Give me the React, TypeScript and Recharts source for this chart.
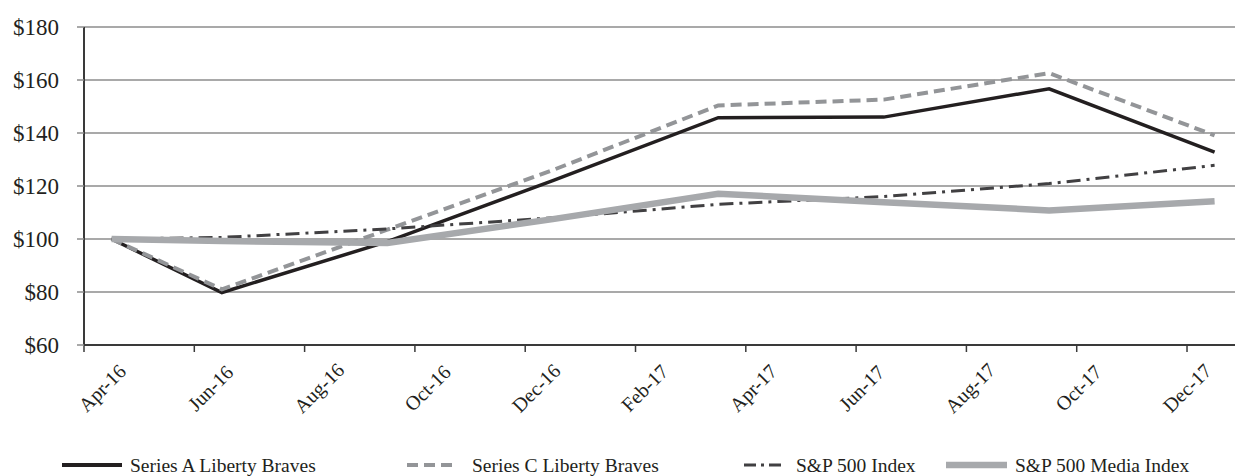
import React from "react";
import { LineChart, Line, XAxis, YAxis, CartesianGrid } from "recharts";

// x position of each observation, in months from the "Apr-16" tick
const monthPos = [0.5, 2.5, 5.5, 8.5, 11.5, 14.5, 17.5, 20.5];
const seriesA = [100, 79.8, 99.0, 122.0, 145.8, 146.0, 156.7, 132.8];
const seriesC = [100, 81.0, 103.5, 126.0, 150.4, 152.6, 162.6, 139.1];
const sp500 = [100, 100.6, 103.8, 108.0, 113.1, 116.0, 120.9, 127.8];
const media = [100, 99.2, 98.5, 107.5, 117.1, 113.9, 110.8, 114.2];

const tickValues = [0, 2, 4, 6, 8, 10, 12, 14, 16, 18, 20];
const tickLabels = ["Apr-16", "Jun-16", "Aug-16", "Oct-16", "Dec-16", "Feb-17", "Apr-17", "Jun-17", "Aug-17", "Oct-17", "Dec-17"];
const yTicks = [60, 80, 100, 120, 140, 160, 180];

const names = ["Series A Liberty Braves", "Series C Liberty Braves", "S&P 500 Index", "S&P 500 Media Index"];

const data = monthPos.map((m, i) => ({
  m,
  a: seriesA[i],
  c: seriesC[i],
  sp: sp500[i],
  md: media[i],
}));

const FONT = "'Liberation Serif', 'Times New Roman', serif";
const TEXT = "#231f20";
const C_A = "#231f20";
const C_C = "#939598";
const C_SP = "#414042";
const C_MD = "#a7a9ac";

const XTick = (props: any) => {
  const { x, y, payload } = props;
  const i = tickValues.indexOf(payload.value);
  const cx = x + 18 - 1.8 * i;
  const cy = y + 36;
  return (
    <text
      x={cx}
      y={cy}
      textAnchor="middle"
      dominantBaseline="central"
      transform={`rotate(-45 ${cx} ${cy})`}
      fontFamily={FONT}
      fontSize={20}
      fill={TEXT}
    >
      {tickLabels[i]}
    </text>
  );
};

const legendItems = [
  { name: names[0], x: 62, w: 60, color: C_A, sw: 4, dash: undefined as string | undefined, tx: 130 },
  { name: names[1], x: 407, w: 51, color: C_C, sw: 4, dash: "11 6", tx: 472 },
  { name: names[2], x: 744, w: 42, color: C_SP, sw: 3, dash: "12 5 3 5", tx: 796 },
  { name: names[3], x: 946, w: 61, color: C_MD, sw: 6.5, dash: undefined as string | undefined, tx: 1015 },
];

export default function App() {
  return (
    <div style={{ position: "absolute", left: 0, top: 0, width: 1235, height: 476, background: "#fff" }}>
      <LineChart
        width={1235}
        height={476}
        data={data}
        margin={{ top: 27, right: 0, bottom: 0, left: 0 }}
      >
        <CartesianGrid horizontal={true} vertical={false} stroke="#8c8c8c" strokeWidth={1.5} />
        <XAxis
          dataKey="m"
          type="number"
          domain={[0, 20.87]}
          ticks={tickValues}
          allowDataOverflow
          height={131}
          tick={<XTick />}
          tickSize={7}
          tickMargin={0}
          interval={0}
          axisLine={{ stroke: "#3a3a3a", strokeWidth: 2 }}
          tickLine={{ stroke: "#3a3a3a", strokeWidth: 1.5 }}
        />
        <YAxis
          type="number"
          domain={[60, 180]}
          ticks={yTicks}
          width={84}
          tickSize={7}
          tickMargin={18}
          tickFormatter={(v: number) => `$${v}`}
          tick={{ fontFamily: FONT, fontSize: 23, fill: TEXT }}
          axisLine={{ stroke: "#3a3a3a", strokeWidth: 2 }}
          tickLine={{ stroke: "#8c8c8c", strokeWidth: 1.5 }}
        />
        <Line type="linear" dataKey="a" name={names[0]} stroke={C_A} strokeWidth={3.5} dot={false} isAnimationActive={false} />
        <Line type="linear" dataKey="c" name={names[1]} stroke={C_C} strokeWidth={4} strokeDasharray="11 6" dot={false} isAnimationActive={false} />
        <Line type="linear" dataKey="sp" name={names[2]} stroke={C_SP} strokeWidth={3} strokeDasharray="14 6 3 6" dot={false} isAnimationActive={false} />
        <Line type="linear" dataKey="md" name={names[3]} stroke={C_MD} strokeWidth={6.5} dot={false} isAnimationActive={false} />
      </LineChart>
      <svg width={1235} height={30} style={{ position: "absolute", left: 0, top: 450 }}>
        {legendItems.map((it) => (
          <g key={it.name}>
            <line x1={it.x} x2={it.x + it.w} y1={15} y2={15} stroke={it.color} strokeWidth={it.sw} strokeDasharray={it.dash} />
            <text x={it.tx} y={15} dominantBaseline="central" fontFamily={FONT} fontSize={19.5} fill={TEXT}>
              {it.name}
            </text>
          </g>
        ))}
      </svg>
    </div>
  );
}
